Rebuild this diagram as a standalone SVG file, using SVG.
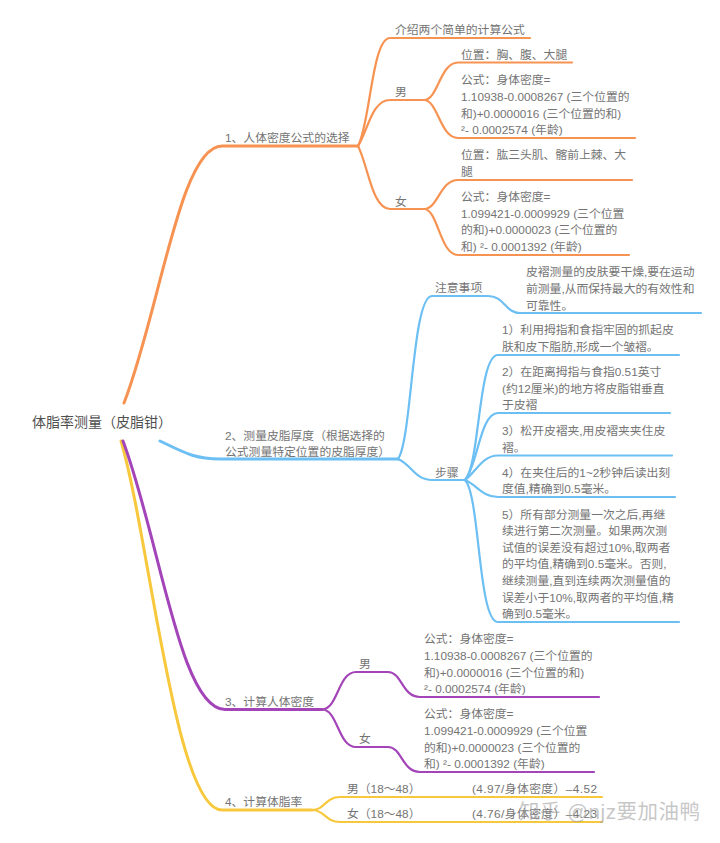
<svg xmlns="http://www.w3.org/2000/svg" width="720" height="843" viewBox="0 0 720 843">
<style>
text{font-family:"Liberation Sans","Noto Sans CJK SC",sans-serif;font-size:11.8px;fill:#747474}
.root{font-size:14px;fill:#505050}
.wm{font-size:20.5px;fill:#9a9a9a;opacity:.55}
path{fill:none;stroke-linecap:round}
.o{stroke:#f79352}.b{stroke:#6cbff3}.p{stroke:#a344b8}.y{stroke:#f8c83c}
.m{stroke-width:3}.s{stroke-width:2.2}
</style>
<rect width="720" height="843" fill="#fff"/>
<g id="connectors">
<path class="y m" d="M121 441C150 540 175 810 222 810H312"/>
<path class="p m" d="M123 441C160 540 180 709.500 225 709.500H322"/>
<path class="o m" d="M124 403C160 310 180 146 222 146H358"/>
<path class="b m" d="M160 441C185 453 195 459 220 459H398"/>
<path class="o s" d="M358 146C370 125 372 38 390 38H530"/>
<path class="o s" d="M358 146C368 130 372 100 390 100H424"/>
<path class="o s" d="M358 146C368 165 372 209 390 209H424"/>
<path class="o s" d="M424 100C438 100 440 62.500 458 62.500H572"/>
<path class="o s" d="M424 100C438 100 440 138 458 138H635"/>
<path class="o s" d="M424 209C438 209 440 180 458 180H632"/>
<path class="o s" d="M424 209C438 209 440 255 458 255H629"/>
<path class="b s" d="M398 459C412 440 412 296 432 296H488C505 296 505 313 520 313H701"/>
<path class="b s" d="M398 459C412 465 415 480 432 480H465"/>
<path class="b s" d="M465 480C480 465 478 355 498 355H679"/>
<path class="b s" d="M465 480C478 465 480 413 498 413H670"/>
<path class="b s" d="M465 480C476 472 482 455.500 498 455.500H672"/>
<path class="b s" d="M465 480C476 484 482 497 498 497H675"/>
<path class="b s" d="M465 480C480 495 478 622 498 622H679"/>
<path class="p s" d="M322 709.500C338 709.500 338 672 356 672H388C402 672 402 697 420 697H599"/>
<path class="p s" d="M322 709.500C338 709.500 338 747 356 747H388C402 747 402 772 420 772H594"/>
<path class="y s" d="M312 810C325 810 325 797 340 797H602"/>
<path class="y s" d="M312 810C325 810 325 822 340 822H602"/>
</g>
<g id="root"><text class="root" x="32" y="427">体脂率测量（皮脂钳）</text></g>
<g id="n1"><text x="225" y="142">1、人体密度公式的选择</text></g>
<g id="n1-intro"><text x="395" y="34">介绍两个简单的计算公式</text></g>
<g id="n1-male"><text x="395" y="96">男</text></g>
<g id="n1-male-pos"><text x="461" y="59">位置：胸、腹、大腿</text></g>
<g id="n1-male-formula"><text x="461" y="84">公式：身体密度=</text><text x="461" y="101">1.10938-0.0008267 (三个位置的</text><text x="461" y="117.500">和)+0.0000016 (三个位置的和)</text><text x="461" y="134">²- 0.0002574 (年龄)</text></g>
<g id="n1-female"><text x="395" y="205.500">女</text></g>
<g id="n1-female-pos"><text x="461" y="159">位置：肱三头肌、髂前上棘、大</text><text x="461" y="176">腿</text></g>
<g id="n1-female-formula"><text x="461" y="201">公式：身体密度=</text><text x="461" y="217.500">1.099421-0.0009929 (三个位置</text><text x="461" y="234">的和)+0.0000023 (三个位置的</text><text x="461" y="250.500">和) ²- 0.0001392 (年龄)</text></g>
<g id="n2"><text x="225" y="439.500">2、测量皮脂厚度（根据选择的</text><text x="225" y="455.500">公式测量特定位置的皮脂厚度）</text></g>
<g id="n2-notes"><text x="435" y="292">注意事项</text></g>
<g id="n2-notes-text"><text x="526" y="276">皮褶测量的皮肤要干燥,要在运动</text><text x="526" y="293">前测量,从而保持最大的有效性和</text><text x="526" y="309.500">可靠性。</text></g>
<g id="n2-steps"><text x="435" y="476.500">步骤</text></g>
<g id="n2-step1"><text x="502" y="334">1）利用拇指和食指牢固的抓起皮</text><text x="502" y="351">肤和皮下脂肪,形成一个皱褶。</text></g>
<g id="n2-step2"><text x="502" y="376">2）在距离拇指与食指0.51英寸</text><text x="502" y="392.500">(约12厘米)的地方将皮脂钳垂直</text><text x="502" y="409">于皮褶</text></g>
<g id="n2-step3"><text x="502" y="435">3）松开皮褶夹,用皮褶夹夹住皮</text><text x="502" y="452">褶。</text></g>
<g id="n2-step4"><text x="502" y="476.500">4）在夹住后的1~2秒钟后读出刻</text><text x="502" y="493">度值,精确到0.5毫米。</text></g>
<g id="n2-step5"><text x="502" y="518.500">5）所有部分测量一次之后,再继</text><text x="502" y="535">续进行第二次测量。如果两次测</text><text x="502" y="551.500">试值的误差没有超过10%,取两者</text><text x="502" y="568">的平均值,精确到0.5毫米。否则,</text><text x="502" y="585">继续测量,直到连续两次测量值的</text><text x="502" y="601.500">误差小于10%,取两者的平均值,精</text><text x="502" y="618">确到0.5毫米。</text></g>
<g id="n3"><text x="225" y="706">3、计算人体密度</text></g>
<g id="n3-male"><text x="359" y="668">男</text></g>
<g id="n3-male-formula"><text x="424" y="643">公式：身体密度=</text><text x="424" y="660">1.10938-0.0008267 (三个位置的</text><text x="424" y="676.500">和)+0.0000016 (三个位置的和)</text><text x="424" y="693">²- 0.0002574 (年龄)</text></g>
<g id="n3-female"><text x="359" y="743">女</text></g>
<g id="n3-female-formula"><text x="424" y="718">公式：身体密度=</text><text x="424" y="735">1.099421-0.0009929 (三个位置</text><text x="424" y="751.500">的和)+0.0000023 (三个位置的</text><text x="424" y="768">和) ²- 0.0001392 (年龄)</text></g>
<g id="n4"><text x="225" y="806">4、计算体脂率</text></g>
<g id="n4-male"><text x="347" y="793">男（18～48）</text></g>
<g id="n4-male-formula"><text x="472" y="793" textLength="125">(4.97/身体密度）–4.52</text></g>
<g id="n4-female"><text x="347" y="818">女（18～48）</text></g>
<g id="n4-female-formula"><text x="472" y="818" textLength="125">(4.76/身体密度）–4.23</text></g>
<text class="wm" x="519" y="819" textLength="181">知乎 @njz要加油鸭</text>
</svg>
